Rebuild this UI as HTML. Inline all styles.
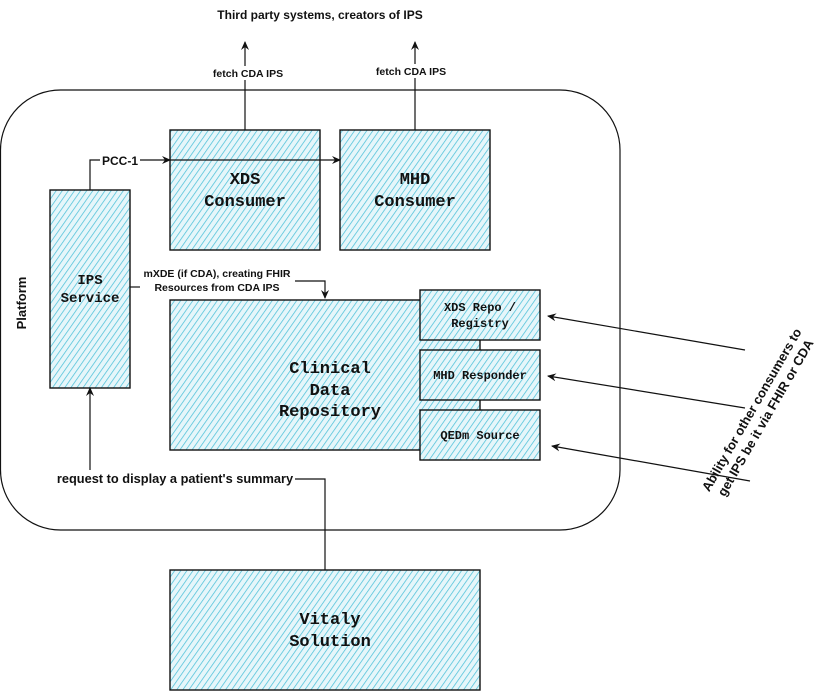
<!DOCTYPE html>
<html><head><meta charset="utf-8"><style>
html,body{margin:0;padding:0;background:#fff;}
svg{display:block;}
.l{font-family:"Liberation Sans",sans-serif;font-weight:bold;fill:#111;}
.m{font-family:"Liberation Mono",monospace;font-weight:bold;fill:#111;}
</style></head><body>
<svg width="823" height="691" viewBox="0 0 823 691" xmlns="http://www.w3.org/2000/svg">
<defs>
<pattern id="h" patternUnits="userSpaceOnUse" width="5" height="5" patternTransform="rotate(35)">
<rect width="5" height="5" fill="#e6f6fa"/>
<line x1="0" y1="0" x2="0" y2="5" stroke="#4cc0d8" stroke-width="1.5"/>
</pattern>
<marker id="a" markerWidth="10" markerHeight="10" refX="8" refY="5" orient="auto" markerUnits="userSpaceOnUse">
<path d="M0,1 L9,5 L0,9 L3,5 Z" fill="#111"/></marker>
</defs>
<rect x="0.5" y="90" width="619.5" height="440" rx="60" fill="#fff" stroke="#111" stroke-width="1.2"/>
<text class="l" font-size="13" transform="translate(26,303) rotate(-90)" text-anchor="middle">Platform</text>
<text class="l" font-size="12" x="320" y="19" text-anchor="middle">Third party systems, creators of IPS</text>
<line x1="245" y1="130" x2="245" y2="42" stroke="#111" stroke-width="1.2" marker-end="url(#a)"/>
<line x1="415" y1="130" x2="415" y2="42" stroke="#111" stroke-width="1.2" marker-end="url(#a)"/>
<rect x="205" y="66" width="88" height="14" fill="#fff"/>
<text class="l" font-size="10.5" x="248" y="77" text-anchor="middle">fetch CDA IPS</text>
<rect x="370" y="64" width="88" height="14" fill="#fff"/>
<text class="l" font-size="10.5" x="411" y="75" text-anchor="middle">fetch CDA IPS</text>
<g stroke="#111" stroke-width="1.4">
<rect x="170" y="130" width="150" height="120" fill="url(#h)"/>
<rect x="340" y="130" width="150" height="120" fill="url(#h)"/>
<rect x="50" y="190" width="80" height="198" fill="url(#h)"/>
<rect x="170" y="300" width="310" height="150" fill="url(#h)"/>
<rect x="420" y="290" width="120" height="50" fill="url(#h)"/>
<rect x="420" y="350" width="120" height="50" fill="url(#h)"/>
<rect x="420" y="410" width="120" height="50" fill="url(#h)"/>
<rect x="170" y="570" width="310" height="120" fill="url(#h)"/>
</g>
<text class="m" font-size="17" x="245" y="184" text-anchor="middle">XDS</text>
<text class="m" font-size="17" x="245" y="206" text-anchor="middle">Consumer</text>
<text class="m" font-size="17" x="415" y="184" text-anchor="middle">MHD</text>
<text class="m" font-size="17" x="415" y="206" text-anchor="middle">Consumer</text>
<text class="m" font-size="14" x="90" y="284" text-anchor="middle">IPS</text>
<text class="m" font-size="14" x="90" y="302" text-anchor="middle">Service</text>
<text class="m" font-size="17" x="330" y="373" text-anchor="middle">Clinical</text>
<text class="m" font-size="17" x="330" y="395" text-anchor="middle">Data</text>
<text class="m" font-size="17" x="330" y="416" text-anchor="middle">Repository</text>
<text class="m" font-size="12" x="480" y="311" text-anchor="middle">XDS Repo /</text>
<text class="m" font-size="12" x="480" y="327" text-anchor="middle">Registry</text>
<text class="m" font-size="12" x="480" y="379" text-anchor="middle">MHD Responder</text>
<text class="m" font-size="12" x="480" y="439" text-anchor="middle">QEDm Source</text>
<text class="m" font-size="17" x="330" y="624" text-anchor="middle">Vitaly</text>
<text class="m" font-size="17" x="330" y="646" text-anchor="middle">Solution</text>
<g stroke="#111" stroke-width="1.2" fill="none">
<polyline points="90,190 90,160 100,160"/>
<line x1="140" y1="160" x2="170" y2="160" marker-end="url(#a)"/>
<line x1="170" y1="160" x2="340" y2="160" marker-end="url(#a)"/>
<line x1="130" y1="287" x2="140" y2="287"/>
<polyline points="295,281 325,281 325,298" marker-end="url(#a)"/>
<line x1="745" y1="350" x2="548" y2="316" marker-end="url(#a)"/>
<line x1="745" y1="408" x2="548" y2="376" marker-end="url(#a)"/>
<line x1="750" y1="481" x2="552" y2="446" marker-end="url(#a)"/>
<polyline points="295,479 325,479 325,570"/>
<line x1="90" y1="470" x2="90" y2="388" marker-end="url(#a)"/>
</g>
<text class="l" font-size="12" x="120" y="165" text-anchor="middle">PCC-1</text>
<text class="l" font-size="10.5" x="217" y="277" text-anchor="middle">mXDE (if CDA), creating FHIR</text>
<text class="l" font-size="10.5" x="217" y="291" text-anchor="middle">Resources from CDA IPS</text>
<text class="l" font-size="12.8" x="175" y="483" text-anchor="middle">request to display a patient's summary</text>
<g transform="translate(759,414) rotate(-60)">
<text class="l" font-size="13" x="0" y="-4" text-anchor="middle">Ability for other consumers to</text>
<text class="l" font-size="13" x="0" y="12" text-anchor="middle">get IPS be it via FHIR or CDA</text>
</g>
</svg>
</body></html>
